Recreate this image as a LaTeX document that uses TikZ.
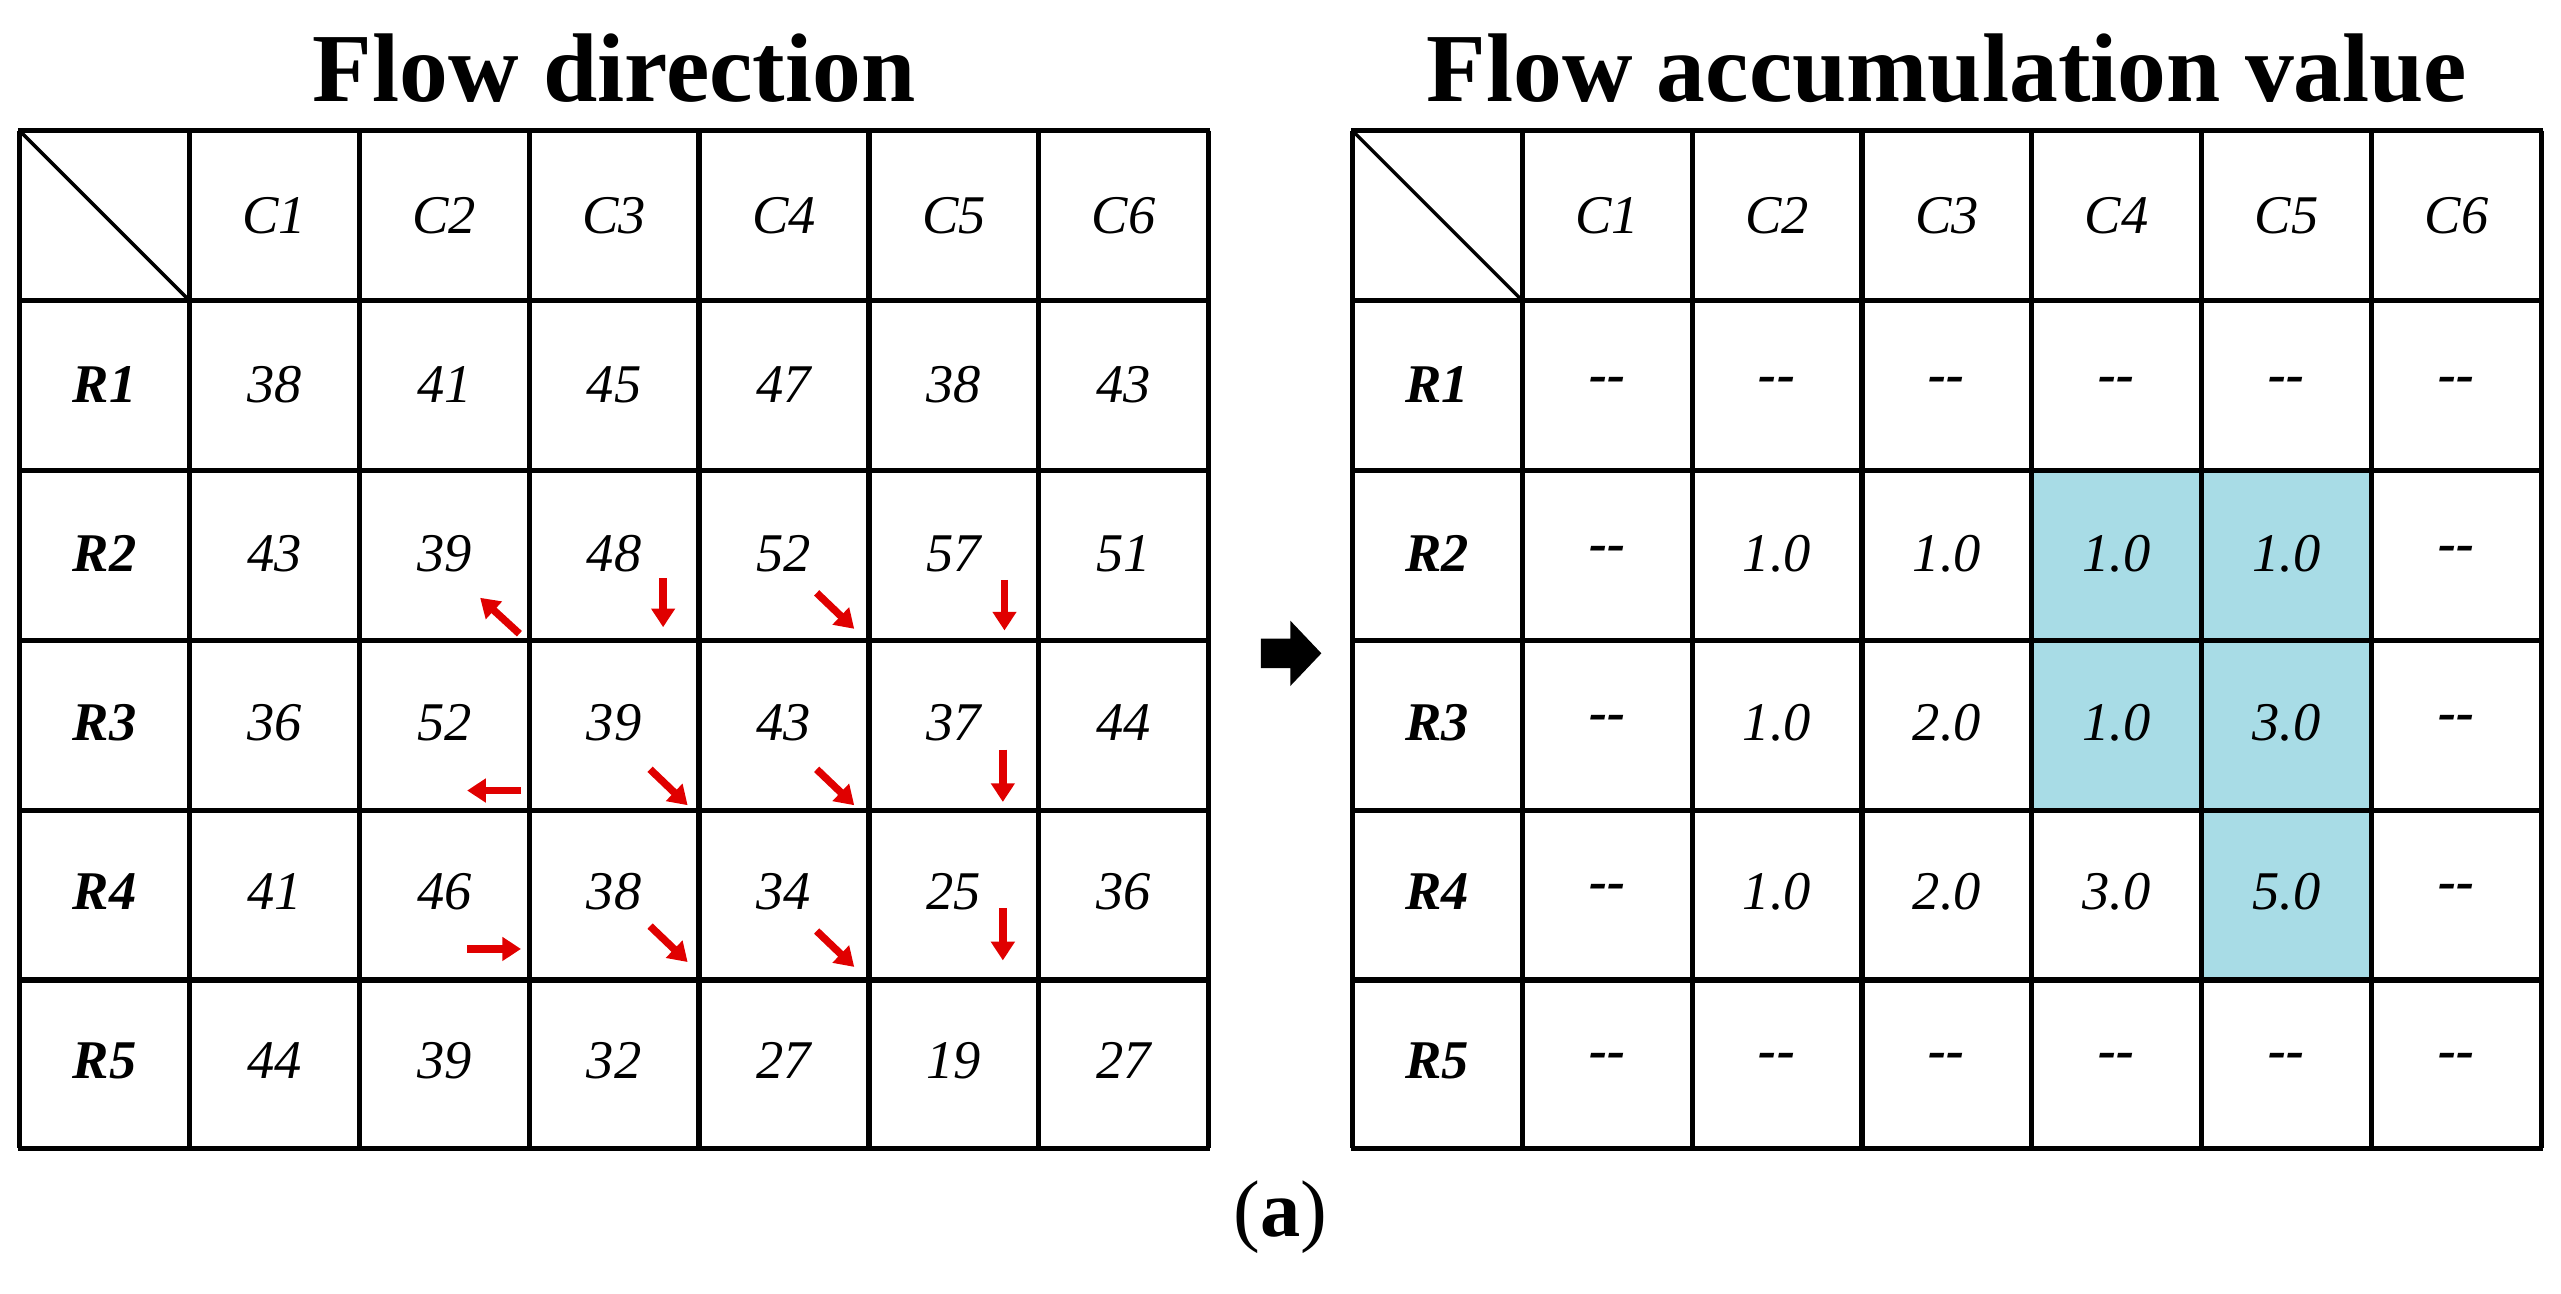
\documentclass[tikz,border=0pt]{standalone}
\usepackage{fontspec}
\setmainfont{Liberation Serif}
\usetikzlibrary{arrows.meta}
\begin{document}
\begin{tikzpicture}[x=0.02cm,y=-0.02cm,
 grid/.style={line width=1.8pt},
 cell/.style={font=\fontsize{19}{22}\selectfont\itshape},
 hdr/.style={font=\fontsize{19}{22}\selectfont\bfseries\itshape},
 ttl/.style={font=\fontsize{34}{40}\selectfont\bfseries},
 rarr/.style={draw={rgb,255:red,224;green,0;blue,0},line width=2.6pt,-{Triangle[width=8pt,length=6.5pt]}}]
\useasboundingbox (0,0) rectangle (1568,792);
\definecolor{hl}{RGB}{168,220,230}
\newcommand{\dd}{\raisebox{-3pt}{\textbf{\mbox{-}\mbox{-}}}}
% highlights
\fill[hl] (1244,288) rectangle (1348,496);
\fill[hl] (1348,288) rectangle (1452,600);
\foreach \ox in {12,828}{
  \foreach \i in {0,...,7} \draw[grid] (\ox+104*\i,80) -- (\ox+104*\i,703);
  \foreach \y in {80,184,288,392,496,600,703} \draw[grid] (\ox-1,\y) -- (\ox+729,\y);
  \draw[line width=1.2pt] (\ox,80) -- (\ox+104,184);
  \foreach \c [count=\k] in {C1,C2,C3,C4,C5,C6}
    \node[cell] (h\ox c\k) at (\ox+52+104*\k,132) {\c};
  \foreach \r [count=\k] in {R1,R2,R3,R4,R5}
    \node[hdr] (h\ox r\k) at (\ox+52,132+103.5*\k) {\r};
}
\node[ttl] (t1) at (376,42) {Flow direction};
\node[ttl] (t2) at (1192,42) {Flow accumulation value};
% left values
\foreach \row [count=\j] in {{38,41,45,47,38,43},{43,39,48,52,57,51},{36,52,39,43,37,44},{41,46,38,34,25,36},{44,39,32,27,19,27}}{
  \foreach \v [count=\k] in \row
    \node[cell] (L\j-\k) at (12+52+104*\k,132+103.5*\j) {\v};
}
\foreach \row [count=\j] in {{\dd,\dd,\dd,\dd,\dd,\dd},{\dd,1.0,1.0,1.0,1.0,\dd},{\dd,1.0,2.0,1.0,3.0,\dd},{\dd,1.0,2.0,3.0,5.0,\dd},{\dd,\dd,\dd,\dd,\dd,\dd}}{
  \foreach \v [count=\k] in \row
    \node[cell] (A\j-\k) at (828+52+104*\k,132+103.5*\j) {\v};
}
% red arrows
\draw[rarr] (318,388) -- (294,366);
\draw[rarr] (406,354) -- (406,384);
\draw[rarr] (500,363) -- (523,385);
\draw[rarr] (615,355) -- (615,386);
\draw[rarr] (319,484) -- (286,484);
\draw[rarr] (398,471) -- (421,493);
\draw[rarr] (500,471) -- (523,493);
\draw[rarr] (614,459) -- (614,491);
\draw[rarr] (286,581) -- (319,581);
\draw[rarr] (398,567) -- (421,589);
\draw[rarr] (500,570) -- (523,592);
\draw[rarr] (614,556) -- (614,588);
% big black arrow
\fill (772,391) -- (790,391) -- (790,380) -- (809,400) -- (790,420) -- (790,409) -- (772,409) -- cycle;
\node[font=\fontsize{28}{32}\selectfont] (cap) at (784,745) {(\textbf{a})};
\end{tikzpicture}
\end{document}
